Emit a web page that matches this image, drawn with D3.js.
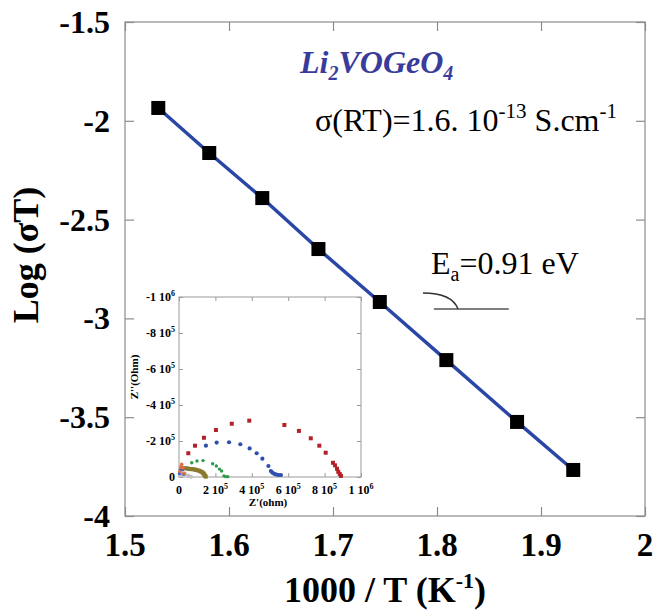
<!DOCTYPE html>
<html><head><meta charset="utf-8">
<script src="https://cdn.jsdelivr.net/npm/d3@7"></script>
<style>body{margin:0;background:#fff}svg{display:block}text{font-family:"Liberation Serif","Times New Roman",serif}</style>
</head><body>
<script>
// Main Arrhenius data
const invT = [1.532, 1.581, 1.632, 1.686, 1.745, 1.809, 1.877, 1.931];
const logSigmaT = [-1.935, -2.163, -2.391, -2.649, -2.917, -3.211, -3.524, -3.767];
const xTicks = [1.5, 1.6, 1.7, 1.8, 1.9, 2];
const xTickLabels = ["1.5", "1.6", "1.7", "1.8", "1.9", "2"];
const yTicks = [-1.5, -2, -2.5, -3, -3.5, -4];
const yTickLabels = ["-1.5", "-2", "-2.5", "-3", "-3.5", "-4"];

// Inset Nyquist data (ohm)
const redZre = [5.1e4, 8.8e4, 1.37e5, 2.03e5, 2.9e5, 3.86e5, 5.79e5, 6.59e5, 7.24e5, 7.71e5, 8.06e5, 8.46e5, 8.57e5, 8.68e5, 8.75e5, 8.83e5, 8.9e5];
const redZim = [-1.32e5, -1.74e5, -2.18e5, -2.61e5, -2.96e5, -3.13e5, -2.89e5, -2.56e5, -2.15e5, -1.74e5, -1.35e5, -7.9e4, -6.5e4, -4.6e4, -2.9e4, -1.7e4, -6e3];
const blueZre = [1.48e5, 2.07e5, 2.75e5, 3.37e5, 3.88e5, 4.27e5, 4.58e5, 4.91e5, 5.05e5, 5.13e5, 5.24e5, 5.37e5, 5.49e5, 5.6e5];
const blueZim = [-1.74e5, -1.91e5, -1.93e5, -1.82e5, -1.59e5, -1.32e5, -1.02e5, -6.1e4, -3.3e4, -2.4e4, -1.7e4, -1.3e4, -1.1e4, -1.1e4];
const greenZre = [7.0e4, 9.9e4, 1.32e5, 1.85e5, 2.05e5, 2.22e5, 2.34e5, 2.47e5, 2.57e5, 2.68e5];
const greenZim = [-7.9e4, -8.9e4, -9.1e4, -7.4e4, -6.1e4, -4.4e4, -3.3e4, -6e3, -2e3, -2e3];
const oliveZre = [1.8e4, 3.0e4, 4.2e4, 5.1e4, 6.0e4, 7.0e4, 7.9e4, 8.8e4, 9.7e4, 1.06e5, 1.15e5, 1.23e5, 1.3e5, 1.35e5, 1.39e5, 1.43e5, 1.47e5];
const oliveZim = [-4.8e4, -4.9e4, -4.8e4, -4.6e4, -4.4e4, -4.4e4, -4.3e4, -4.1e4, -3.9e4, -3.6e4, -3.3e4, -2.9e4, -2.4e4, -1.9e4, -1.3e4, -7e3, -2e3];
const grayZre = [3e3, 1.5e4, 3.3e4, 5.1e4, 6.6e4];
const grayZim = [-6e3, -1.7e4, -1.7e4, -9e3, -1e3];
const tinyRedZre = [5e3, 1.0e4, 1.5e4, 2.2e4, 2.8e4];
const tinyRedZim = [-3e4, -5.5e4, -7e4, -5e4, -2e4];
const tinyBlueZre = [3e3, 8e3, 1.4e4, 2.0e4, 2.6e4];
const tinyBlueZim = [-2e4, -4e4, -5.5e4, -4e4, -1.5e4];
const insetXTicks = [0, 2e5, 4e5, 6e5, 8e5, 1e6];
const insetXLabels = [["0"], ["2 10", "5"], ["4 10", "5"], ["6 10", "5"], ["8 10", "5"], ["1 10", "6"]];
const insetYTicks = [0, -2e5, -4e5, -6e5, -8e5, -1e6];
const insetYLabels = [["0"], ["-2 10", "5"], ["-4 10", "5"], ["-6 10", "5"], ["-8 10", "5"], ["-1 10", "6"]];

// Annotation (activation-energy angle mark) in data coords
const angleLine = [[1.797, -2.952], [1.869, -2.952]];
const angleArc = [[1.7865, -2.871], [1.8144, -2.871], [1.8202, -2.952]];

const W = 653, H = 610;
const svg = d3.select("body").append("svg").attr("width", W).attr("height", H);

const x = d3.scaleLinear().domain([1.5, 2]).range([125, 645]);
const y = d3.scaleLinear().domain([-4, -1.5]).range([516, 22]);
const axisCol = "#8c8c8c";

// frame
svg.append("rect").attr("x", 125).attr("y", 22).attr("width", 520).attr("height", 494)
  .attr("fill", "none").attr("stroke", axisCol).attr("stroke-width", 1.2);

// axes with inward ticks
const gx = svg.append("g").attr("transform", "translate(0,516)")
  .call(d3.axisBottom(x).tickValues(xTicks).tickSize(-9).tickFormat(""));
const gx2 = svg.append("g").attr("transform", "translate(0,22)")
  .call(d3.axisTop(x).tickValues(xTicks).tickSize(-9).tickFormat(""));
const gy = svg.append("g").attr("transform", "translate(125,0)")
  .call(d3.axisLeft(y).tickValues(yTicks).tickSize(-9).tickFormat(""));
const gy2 = svg.append("g").attr("transform", "translate(645,0)")
  .call(d3.axisRight(y).tickValues(yTicks).tickSize(-9).tickFormat(""));
[gx, gx2, gy, gy2].forEach(g => { g.select(".domain").remove(); g.selectAll("line").attr("stroke", axisCol).attr("stroke-width", 1.2); });

// tick labels
svg.append("g").selectAll("text").data(xTicks).join("text")
  .attr("x", d => x(d)).attr("y", 556).attr("text-anchor", "middle")
  .attr("font-size", 33).attr("font-weight", "bold").text((d, i) => xTickLabels[i]);
svg.append("g").selectAll("text").data(yTicks).join("text")
  .attr("x", 110).attr("y", d => y(d) + 11).attr("text-anchor", "end")
  .attr("font-size", 32).attr("font-weight", "bold").text((d, i) => yTickLabels[i]);

// axis titles
const xt = svg.append("text").attr("x", 385).attr("y", 602).attr("text-anchor", "middle")
  .attr("font-size", 36).attr("font-weight", "bold");
xt.append("tspan").text("1000 / T (K");
xt.append("tspan").attr("font-size", 22).attr("dy", -14).text("-1");
xt.append("tspan").attr("dy", 14).text(")");
svg.append("text").attr("transform", "translate(38,255) rotate(-90)").attr("text-anchor", "middle")
  .attr("font-size", 36).attr("font-weight", "bold").text("Log (σT)");

// fit line and markers
const pts = invT.map((v, i) => [v, logSigmaT[i]]);
svg.append("path").datum(pts).attr("fill", "none").attr("stroke", "#2a46a6").attr("stroke-width", 3.5)
  .attr("d", d3.line().x(d => x(d[0])).y(d => y(d[1])));
svg.append("g").selectAll("rect").data(pts).join("rect")
  .attr("x", d => x(d[0]) - 7).attr("y", d => y(d[1]) - 7).attr("width", 14).attr("height", 14).attr("fill", "#000");

// texts
const title = svg.append("text").attr("x", 300).attr("y", 73).attr("font-size", 32)
  .attr("font-weight", "bold").attr("font-style", "italic").attr("fill", "#3a3c9c");
title.append("tspan").text("Li");
title.append("tspan").attr("font-size", 20).attr("dy", 7).text("2");
title.append("tspan").attr("dy", -7).text("VOGeO");
title.append("tspan").attr("font-size", 20).attr("dy", 7).text("4");

const sig = svg.append("text").attr("x", 315).attr("y", 131).attr("font-size", 32).attr("fill", "#000");
sig.append("tspan").text("σ(RT)=1.6. 10");
sig.append("tspan").attr("font-size", 21).attr("dy", -13).text("-13");
sig.append("tspan").attr("dy", 13).text(" S.cm");
sig.append("tspan").attr("font-size", 21).attr("dy", -13).text("-1");

const ea = svg.append("text").attr("x", 431).attr("y", 274).attr("font-size", 32).attr("fill", "#000");
ea.append("tspan").text("E");
ea.append("tspan").attr("font-size", 20).attr("dy", 7).text("a");
ea.append("tspan").attr("dy", -7).text("=0.91 eV");

svg.append("path").datum(angleLine).attr("fill", "none").attr("stroke", "#555").attr("stroke-width", 1.5)
  .attr("d", d3.line().x(d => x(d[0])).y(d => y(d[1])));
svg.append("path").datum(angleArc).attr("fill", "none").attr("stroke", "#333").attr("stroke-width", 1.5)
  .attr("d", d => `M${x(d[0][0])},${y(d[0][1])} Q${x(d[1][0])},${y(d[1][1])} ${x(d[2][0])},${y(d[2][1])}`);

// ---------- Inset ----------
const ix = d3.scaleLinear().domain([0, 1e6]).range([179, 361]);
const iy = d3.scaleLinear().domain([0, -1e6]).range([477, 297]);
svg.append("rect").attr("x", 179).attr("y", 297).attr("width", 182).attr("height", 180)
  .attr("fill", "#fff").attr("stroke", "#9a9a9a").attr("stroke-width", 1);
const ig = [
  svg.append("g").attr("transform", "translate(0,477)").call(d3.axisBottom(ix).tickValues(insetXTicks).tickSize(-4).tickFormat("")),
  svg.append("g").attr("transform", "translate(0,297)").call(d3.axisTop(ix).tickValues(insetXTicks).tickSize(-4).tickFormat("")),
  svg.append("g").attr("transform", "translate(179,0)").call(d3.axisLeft(iy).tickValues(insetYTicks).tickSize(-4).tickFormat("")),
  svg.append("g").attr("transform", "translate(361,0)").call(d3.axisRight(iy).tickValues(insetYTicks).tickSize(-4).tickFormat(""))
];
ig.forEach(g => { g.select(".domain").remove(); g.selectAll("line").attr("stroke", "#9a9a9a"); });

const ixl = svg.append("g").selectAll("text").data(insetXTicks).join("text")
  .attr("x", d => ix(d)).attr("y", 494).attr("text-anchor", "middle")
  .attr("font-size", 12).attr("font-weight", "bold");
ixl.each(function (d, i) {
  const t = d3.select(this), l = insetXLabels[i];
  t.append("tspan").text(l[0]);
  if (l[1]) t.append("tspan").attr("font-size", 8).attr("dy", -5).text(l[1]);
});
const iyl = svg.append("g").selectAll("text").data(insetYTicks).join("text")
  .attr("x", 175).attr("y", d => iy(d) + 4).attr("text-anchor", "end")
  .attr("font-size", 12).attr("font-weight", "bold");
iyl.each(function (d, i) {
  const t = d3.select(this), l = insetYLabels[i];
  t.append("tspan").text(l[0]);
  if (l[1]) t.append("tspan").attr("font-size", 8).attr("dy", -5).text(l[1]);
});
svg.append("text").attr("x", 268).attr("y", 506).attr("text-anchor", "middle")
  .attr("font-size", 11).attr("font-weight", "bold").text("Z'(ohm)");
svg.append("text").attr("transform", "translate(138,377) rotate(-90)").attr("text-anchor", "middle")
  .attr("font-size", 11).attr("font-weight", "bold").text("Z''(Ohm)");

function series(re, im, color, shape, s) {
  const d = re.map((v, i) => [v, im[i]]);
  const g = svg.append("g");
  if (shape === "rect") {
    g.selectAll("rect").data(d).join("rect")
      .attr("x", p => ix(p[0]) - s / 2).attr("y", p => iy(p[1]) - s / 2)
      .attr("width", s).attr("height", s).attr("fill", color);
  } else {
    g.selectAll("circle").data(d).join("circle")
      .attr("cx", p => ix(p[0])).attr("cy", p => iy(p[1])).attr("r", s).attr("fill", color);
  }
}
series(grayZre, grayZim, "#c0c0c0", "circle", 2);
series(oliveZre, oliveZim, "#8a7a2c", "rect", 4);
series(greenZre, greenZim, "#2f9a4c", "circle", 1.7);
series(blueZre, blueZim, "#2f4fb0", "circle", 2.1);
series(redZre, redZim, "#b52028", "rect", 4);
series(tinyBlueZre, tinyBlueZim, "#4060c0", "circle", 1.8);
series(tinyRedZre, tinyRedZim, "#e07040", "circle", 1.8);
</script>
</body></html>
